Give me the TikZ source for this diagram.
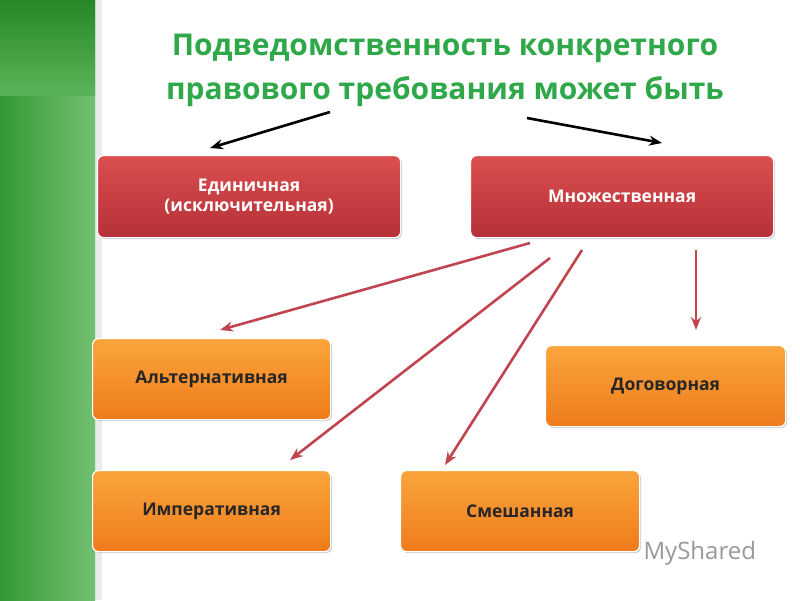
\documentclass[tikz,border=0pt]{standalone}
\usepackage{fontspec}
\setmainfont{Open Sans}
\usetikzlibrary{arrows.meta,shadows}
\definecolor{rtop}{HTML}{DB4F4F}
\definecolor{rbot}{HTML}{B53038}
\definecolor{otop}{HTML}{FBA53C}
\definecolor{obot}{HTML}{EE7B1C}
\definecolor{ttl}{HTML}{2FA84A}
\definecolor{arr}{HTML}{C0454F}
\tikzset{
 x=1pt,y=-1pt,
 box/.style={rounded corners=6pt,draw=white,line width=1.2pt,drop shadow={opacity=0.35,shadow xshift=1.5pt,shadow yshift=-1.5pt},anchor=north west,align=center,inner sep=0pt,font=\bfseries\fontsize{17.5}{20}\selectfont},
 redb/.style={box,top color=rtop,bottom color=rbot,text=white},
 orb/.style={box,top color=otop,bottom color=obot,text=black!85},
 blk/.style={-{Stealth[length=13pt,width=10pt]},line width=2.6pt,black},
 rd/.style={-{Stealth[length=13pt,width=10pt]},line width=2.6pt,arr},
}
\begin{document}
\begin{tikzpicture}
\useasboundingbox (0,0) rectangle (800,600);
\fill[white] (0,0) rectangle (800,600);
\shade[left color=green!50!black!80!white,right color=green!55!black!55!white] (0,0) rectangle (95,600);
\shade[top color=green!45!black!85!white,bottom color=green!55!black!65!white] (0,0) rectangle (95,95);
\fill[black,opacity=0.08] (95,0) rectangle (102,600);
\node[text=ttl,font=\bfseries\fontsize{30}{36}\selectfont] (t1) at (445,48) {Подведомственность конкретного};
\node[text=ttl,font=\bfseries\fontsize{30}{36}\selectfont] (t2) at (445,92) {правового требования может быть};
\node[redb,minimum width=303pt,minimum height=82pt] (a) at (97,155) {Единичная\\(исключительная)};
\node[redb,minimum width=303pt,minimum height=82pt] (b) at (470,155) {Множественная};
\node[orb,minimum width=238pt,minimum height=81pt] (c) at (92,338) {Альтернативная};
\node[orb,minimum width=240pt,minimum height=81pt] (d) at (545,345) {Договорная};
\node[orb,minimum width=238pt,minimum height=81pt] (e) at (92,470) {Императивная};
\node[orb,minimum width=239pt,minimum height=81pt] (f) at (400,470) {Смешанная};
\coordinate (s1) at (330,112); \coordinate (s2) at (527,118);
\draw[blk] (s1) -- (210,148);
\draw[blk] (s2) -- (662,143);
\draw[rd] (530,243) -- (220,330);
\draw[rd] (550,258) -- (290,460);
\draw[rd] (582,250) -- (445,465);
\draw[rd] (696,250) -- (696,330);
\node[text=black!40,font=\fontsize{24}{26}\selectfont,anchor=west] (w) at (640,553) {MyShared};
\end{tikzpicture}
\end{document}
